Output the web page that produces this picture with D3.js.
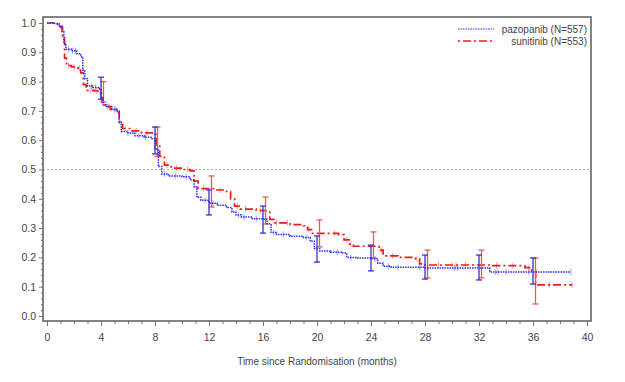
<!DOCTYPE html>
<html><head><meta charset="utf-8">
<script src="https://cdn.jsdelivr.net/npm/d3@7"></script>
<style>body{margin:0;background:#fff}svg{display:block}text{font-family:"Liberation Sans",Arial,sans-serif;fill:#444}</style>
</head><body><svg id="c" width="625" height="382"></svg>
<script>
// ---- data ----
const seriesNames = ["pazopanib (N=557)", "sunitinib (N=553)"];
const xTicks = [0,4,8,12,16,20,24,28,32,36,40];
const yTicks = [0.0,0.1,0.2,0.3,0.4,0.5,0.6,0.7,0.8,0.9,1.0];
// step points [month, survival after step]
const pazoSteps = [[0,1.0],[0.5,0.998],[0.9,0.99],[1.1,0.97],[1.25,0.93],[1.4,0.91],[1.8,0.905],[2.2,0.895],[2.5,0.885],[2.65,0.84],[2.8,0.81],[3.0,0.785],[3.4,0.78],[3.9,0.775],[4.0,0.745],[4.15,0.72],[4.4,0.715],[4.8,0.705],[5.2,0.70],[5.35,0.665],[5.5,0.63],[5.9,0.625],[6.5,0.615],[7.2,0.61],[7.7,0.605],[8.0,0.57],[8.25,0.51],[8.5,0.485],[9.0,0.478],[10.0,0.475],[10.6,0.465],[10.9,0.44],[11.1,0.405],[11.4,0.395],[12.0,0.385],[12.6,0.378],[13.3,0.37],[13.7,0.355],[14.0,0.345],[14.4,0.338],[15.2,0.332],[16.0,0.33],[16.3,0.315],[16.6,0.285],[17.0,0.278],[18.0,0.272],[19.0,0.268],[19.5,0.255],[19.8,0.23],[20.2,0.222],[21.0,0.218],[21.8,0.215],[22.2,0.2],[23.0,0.198],[24.0,0.195],[24.5,0.18],[24.9,0.17],[25.5,0.166],[28.0,0.164],[32.8,0.15],[38.8,0.15]];
const suniSteps = [[0,1.0],[0.6,0.995],[1.0,0.985],[1.15,0.95],[1.3,0.88],[1.45,0.855],[1.8,0.85],[2.3,0.845],[2.5,0.83],[2.7,0.79],[2.9,0.77],[3.5,0.768],[3.95,0.76],[4.05,0.73],[4.3,0.715],[4.7,0.705],[5.2,0.695],[5.35,0.66],[5.6,0.64],[6.2,0.632],[7.0,0.625],[7.8,0.62],[8.1,0.58],[8.35,0.545],[8.7,0.515],[9.2,0.505],[10.0,0.5],[10.6,0.495],[10.9,0.46],[11.2,0.435],[12.5,0.43],[13.3,0.425],[13.6,0.40],[13.9,0.375],[14.3,0.365],[15.5,0.36],[16.2,0.355],[16.5,0.33],[16.8,0.318],[18.0,0.312],[19.0,0.308],[19.3,0.295],[19.6,0.282],[21.6,0.278],[22.0,0.26],[22.4,0.245],[22.7,0.238],[24.6,0.225],[24.9,0.205],[26.0,0.2],[27.3,0.195],[27.6,0.178],[28.0,0.174],[33.0,0.172],[35.4,0.165],[35.9,0.155],[36.2,0.106],[38.9,0.106]];
const pazoCensor = [1.6,1.9,2.1,3.3,3.6,4.5,5.0,6.0,6.8,7.3,8.7,9.5,10.3,11.7,12.3,14.2,14.6,15.5,16.8,17.5,19.2,21.5,22.5,24.3,25.3,26.0,27.6,28.2,30.2,30.4,33.2,33.4,34.0,35.7,38.8];
const suniCensor = [1.6,2.0,2.4,3.2,3.7,4.6,5.1,5.8,6.6,7.4,8.9,9.6,10.4,11.6,12.8,14.1,14.7,15.8,17.0,17.8,19.4,21.3,22.2,22.5,24.8,25.6,27.4,29.0,30.0,30.3,31.0,33.3,34.5,35.7,37.2,38.9];
// CI bars [month, lower, upper]
const pazoCI = [[4,0.74,0.815],[8,0.553,0.645],[12,0.345,0.43],[16,0.283,0.375],[20,0.184,0.273],[24,0.154,0.242],[28,0.126,0.208],[32,0.123,0.208],[36,0.109,0.198]];
const suniCI = [[4,0.73,0.80],[8,0.545,0.645],[12,0.372,0.478],[16,0.314,0.406],[20,0.236,0.328],[24,0.198,0.287],[28,0.13,0.225],[32,0.13,0.225],[36,0.041,0.198]];

// ---- drawing ----
const svg = d3.select("#c");
const x = d3.scaleLinear().domain([0,40]).range([47,587]);
const y = d3.scaleLinear().domain([0,1]).range([316,23]);
const BLUE = "#2a2af0", RED = "#ee1c1c";

// reference line 0.5
svg.append("line").attr("x1",43).attr("x2",591).attr("y1",y(0.5)).attr("y2",y(0.5))
  .attr("stroke","#7fb87f").attr("stroke-width",0.8).attr("stroke-dasharray","2,2");

// axes
const xAxis = svg.append("g").attr("transform","translate(0,321)")
  .call(d3.axisBottom(x).tickValues(xTicks).tickFormat(d3.format("d")).tickSize(5).tickPadding(8));
const xMinor = svg.append("g").attr("transform","translate(0,321)")
  .call(d3.axisBottom(x).tickValues(d3.range(0,41,1).filter(d=>d%4)).tickSize(3).tickFormat(""));
const yAxis = svg.append("g").attr("transform","translate(43,0)")
  .call(d3.axisLeft(y).tickValues(yTicks).tickFormat(d3.format(".1f")).tickSize(4).tickPadding(3));
const yMinor = svg.append("g").attr("transform","translate(43,0)")
  .call(d3.axisLeft(y).tickValues(d3.range(0,51,1).filter(d=>d%5).map(d=>d/50)).tickSize(2).tickFormat(""));
[xAxis,xMinor,yAxis,yMinor].forEach(g=>{
  g.select(".domain").remove();
  g.selectAll("line").attr("stroke","#777");
  g.selectAll("text").attr("fill","#444").style("font-size","10.5px").style("font-family","Liberation Sans, Arial, sans-serif");
});

// frame
svg.append("rect").attr("x",43).attr("y",17).attr("width",548).attr("height",304)
  .attr("fill","none").attr("stroke","#666").attr("stroke-width",1.6);

svg.append("text").attr("x",317).attr("y",365).attr("text-anchor","middle")
  .style("font-size","10px").text("Time since Randomisation (months)");

function stepVal(steps, t){ let v = steps[0][1]; for(const s of steps){ if(s[0]<=t) v=s[1]; } return v; }
const line = d3.line().x(d=>x(d[0])).y(d=>y(d[1])).curve(d3.curveStepAfter);

function drawSeries(steps, censor, ci, color, ciColor, dash, off, w){
  const g = svg.append("g");
  g.append("path").attr("d", line(steps)).attr("fill","none").attr("stroke",color)
    .attr("stroke-width",w).attr("stroke-dasharray",dash);
  g.selectAll(".cen").data(censor).join("line")
    .attr("x1",d=>x(d)).attr("x2",d=>x(d))
    .attr("y1",d=>y(stepVal(steps,d))-3).attr("y2",d=>y(stepVal(steps,d))+3)
    .attr("stroke",color).attr("stroke-opacity",0.45).attr("stroke-width",1);
  const cg = g.selectAll(".ci").data(ci).join("g");
  cg.append("line").attr("x1",d=>x(d[0])+off).attr("x2",d=>x(d[0])+off)
    .attr("y1",d=>y(d[1])).attr("y2",d=>y(d[2])).attr("stroke",ciColor).attr("stroke-width",1.3);
  cg.append("line").attr("x1",d=>x(d[0])+off-3).attr("x2",d=>x(d[0])+off+3)
    .attr("y1",d=>y(d[1])).attr("y2",d=>y(d[1])).attr("stroke",ciColor).attr("stroke-width",1.3);
  cg.append("line").attr("x1",d=>x(d[0])+off-3).attr("x2",d=>x(d[0])+off+3)
    .attr("y1",d=>y(d[2])).attr("y2",d=>y(d[2])).attr("stroke",ciColor).attr("stroke-width",1.3);
}
drawSeries(suniSteps, suniCensor, suniCI, RED, "#e85a5a", "8,3,2,3", 2.5, 1.7);
drawSeries(pazoSteps, pazoCensor, pazoCI, BLUE, "#3434c8", "1.5,1", 0, 1.5);

// legend
const lg = svg.append("g");
lg.append("line").attr("x1",458).attr("x2",494).attr("y1",29).attr("y2",29)
  .attr("stroke",BLUE).attr("stroke-width",1.2).attr("stroke-dasharray","1.5,1");
lg.append("line").attr("x1",458).attr("x2",494).attr("y1",41).attr("y2",41)
  .attr("stroke",RED).attr("stroke-width",1.7).attr("stroke-dasharray","2,3,8,3");
lg.append("text").attr("x",587).attr("y",33).attr("text-anchor","end").style("font-size","10px").text(seriesNames[0]);
lg.append("text").attr("x",587).attr("y",45).attr("text-anchor","end").style("font-size","10px").text(seriesNames[1]);
</script></body></html>
